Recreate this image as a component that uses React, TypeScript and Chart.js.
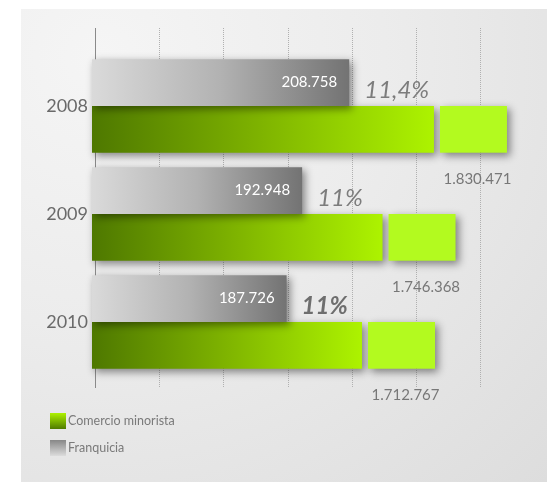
import React, { useEffect, useRef } from 'react';
import { Chart, registerables } from 'chart.js';

Chart.register(...registerables);

// ---- data ----
const years = ['2008', '2009', '2010'];
const comercioMinorista = [1830471, 1746368, 1712767];
const franquicia = [208758, 192948, 187726];
const comercioLabels = ['1.830.471', '1.746.368', '1.712.767'];
const franquiciaLabels = ['208.758', '192.948', '187.726'];
const shareLabels = ['11,4%', '11%', '11%'];
const shareBold = [false, false, true];
const gridTicks = [0, 1, 2, 3, 4, 5, 6];
const legendItems = ['Comercio minorista', 'Franquicia'];

// axis windows (scale configuration)
const GREEN_MIN = 1271000;
const GREEN_MAX = 2004000;
const GRAY_MIN = 122330;
const GRAY_MAX = 272870;

function hGrad(chart: any, x0: number, x1: number, stops: [number, string][]) {
  const g = chart.ctx.createLinearGradient(x0, 0, x1, 0);
  stops.forEach(([o, c]) => g.addColorStop(o, c));
  return g;
}

const decorPlugin = {
  id: 'decor',
  beforeDatasetDraw(chart: any) {
    const ctx = chart.ctx;
    ctx.save();
    ctx.shadowColor = 'rgba(0,0,0,0.45)';
    ctx.shadowBlur = 8;
    ctx.shadowOffsetX = 3;
    ctx.shadowOffsetY = 3;
  },
  afterDatasetDraw(chart: any, args: any) {
    const ctx = chart.ctx;
    if (args.index === 1) {
      const meta = chart.getDatasetMeta(1);
      meta.data.forEach((el: any) => {
        const top = el.y - el.height / 2;
        ctx.fillStyle = '#b3fa1f';
        ctx.fillRect(el.x + 6, top, 67, el.height);
      });
    }
    ctx.restore();
  },
  afterDatasetsDraw(chart: any) {
    const ctx = chart.ctx;
    const gray = chart.getDatasetMeta(0).data;
    const green = chart.getDatasetMeta(1).data;
    ctx.save();
    ctx.textBaseline = 'middle';
    years.forEach((_, i) => {
      const g = gray[i];
      const e = green[i];
      ctx.font = '15px Lato';
      ctx.fillStyle = '#ffffff';
      ctx.textAlign = 'right';
      ctx.fillText(franquiciaLabels[i], g.x - 12, g.y);
      ctx.font = (shareBold[i] ? 'italic 700 ' : 'italic 400 ') + '24px Lato';
      ctx.fillStyle = shareBold[i] ? '#6e6e6e' : '#7c7c7c';
      ctx.textAlign = 'left';
      ctx.fillText(shareLabels[i], g.x + 15, e.y - e.height / 2 - 16);
      ctx.font = '15px Lato';
      ctx.fillStyle = '#777777';
      ctx.textAlign = 'center';
      ctx.fillText(comercioLabels[i], e.x + 6 + 33.5 + 4, e.y + e.height / 2 + 26);
    });
    ctx.restore();
  },
};

export default function App() {
  const ref = useRef<HTMLCanvasElement>(null);
  useEffect(() => {
    const chart = new Chart(ref.current as HTMLCanvasElement, {
      type: 'bar',
      data: {
        datasets: [
          {
            label: legendItems[1],
            data: franquicia.map((v, i) => ({ x: v, y: i })),
            xAxisID: 'xf',
            yAxisID: 'y',
            base: GRAY_MIN,
            clip: false,
            barPercentage: 1,
            categoryPercentage: 0.865,
            backgroundColor: (c: any) => {
              const ch = c.chart;
              if (!ch.chartArea || c.type !== 'data') return '#999';
              const x1 = ch.scales.xf.getPixelForValue(c.raw.x);
              return hGrad(ch, ch.chartArea.left, x1, [[0, '#dadada'], [0.5, '#b2b2b2'], [1, '#737373']]);
            },
          } as any,
          {
            label: legendItems[0],
            data: comercioMinorista.map((v, i) => ({ x: v, y: i })),
            xAxisID: 'xg',
            yAxisID: 'y',
            base: GREEN_MIN,
            clip: false,
            barPercentage: 1,
            categoryPercentage: 0.865,
            backgroundColor: (c: any) => {
              const ch = c.chart;
              if (!ch.chartArea || c.type !== 'data') return '#8c0';
              const x1 = ch.scales.xg.getPixelForValue(c.raw.x);
              return hGrad(ch, ch.chartArea.left, x1, [[0, '#4e7800'], [0.5, '#7fb400'], [1, '#adf300']]);
            },
          } as any,
        ],
      },
      options: {
        indexAxis: 'y',
        animation: false,
        responsive: false,
        layout: { padding: { left: 0, top: 28, bottom: 94, right: 7 } },
        plugins: { legend: { display: false }, tooltip: { enabled: false } },
        scales: {
          y: {
            type: 'linear',
            reverse: true,
            offset: false,
            min: -0.722,
            max: 2.611,
            afterBuildTicks: (axis: any) => {
              axis.ticks = years.map((_, i) => ({ value: i }));
            },
            afterFit: (s: any) => {
              s.width = 92;
            },
            ticks: {
              callback: (v: any) => years[v as number] ?? '',
              font: { family: 'Lato', size: 18 },
              color: '#6a6a6a',
              padding: 4,
            },
            grid: { display: false, drawTicks: false, offset: false },
            border: { display: false },
          },
          x: {
            type: 'linear',
            position: 'bottom',
            offset: false,
            min: -0.0545,
            max: 6.924,
            afterBuildTicks: (axis: any) => {
              axis.ticks = gridTicks.map((v) => ({ value: v }));
            },
            afterFit: (s: any) => {
              s.height = 0;
            },
            ticks: { display: false },
            grid: {
              drawTicks: false,
              color: (c: any) => (c.index === 0 ? '#8a8a8a' : '#b0b0b0'),
              lineWidth: 1,
            },
            border: {
              display: false,
              dash: (c: any) => (c.index === 0 ? [] : [1, 1]),
            } as any,
          },
          xg: { type: 'linear', display: false, offset: false, min: GREEN_MIN, max: GREEN_MAX },
          xf: { type: 'linear', display: false, offset: false, min: GRAY_MIN, max: GRAY_MAX },
        } as any,
      },
      plugins: [decorPlugin],
    } as any);
    return () => chart.destroy();
  }, []);

  const legendBox = (bg: string): React.CSSProperties => ({
    position: 'absolute',
    left: 0,
    top: 0,
    width: 16,
    height: 16,
    background: bg,
  });

  return (
    <div style={{ position: 'fixed', left: 0, top: 0, width: 547, height: 482, background: '#ffffff', overflow: 'hidden', fontFamily: 'Lato' }}>
      <div
        style={{
          position: 'absolute',
          left: 21,
          top: 9,
          width: 526,
          height: 473,
          background: 'radial-gradient(ellipse at 15% 10%, #f5f5f5 0%, #ececec 45%, #dddddd 100%)',
        }}
      />
      <canvas ref={ref} width={547} height={482} style={{ position: 'absolute', left: 0, top: 0, width: 547, height: 482 }} />
      <div style={{ position: 'absolute', left: 50, top: 413, height: 16 }}>
        <div style={legendBox('linear-gradient(to bottom, #aef200, #4f7a00)')} />
        <span style={{ position: 'absolute', left: 18, top: 0, lineHeight: '16px', fontSize: 12.5, color: '#7a7a7a', whiteSpace: 'nowrap' }}>
          {legendItems[0]}
        </span>
      </div>
      <div style={{ position: 'absolute', left: 50, top: 440, height: 16 }}>
        <div style={legendBox('linear-gradient(to bottom, #878787, #dcdcdc)')} />
        <span style={{ position: 'absolute', left: 18, top: 0, lineHeight: '16px', fontSize: 12.5, color: '#7a7a7a', whiteSpace: 'nowrap' }}>
          {legendItems[1]}
        </span>
      </div>
    </div>
  );
}
